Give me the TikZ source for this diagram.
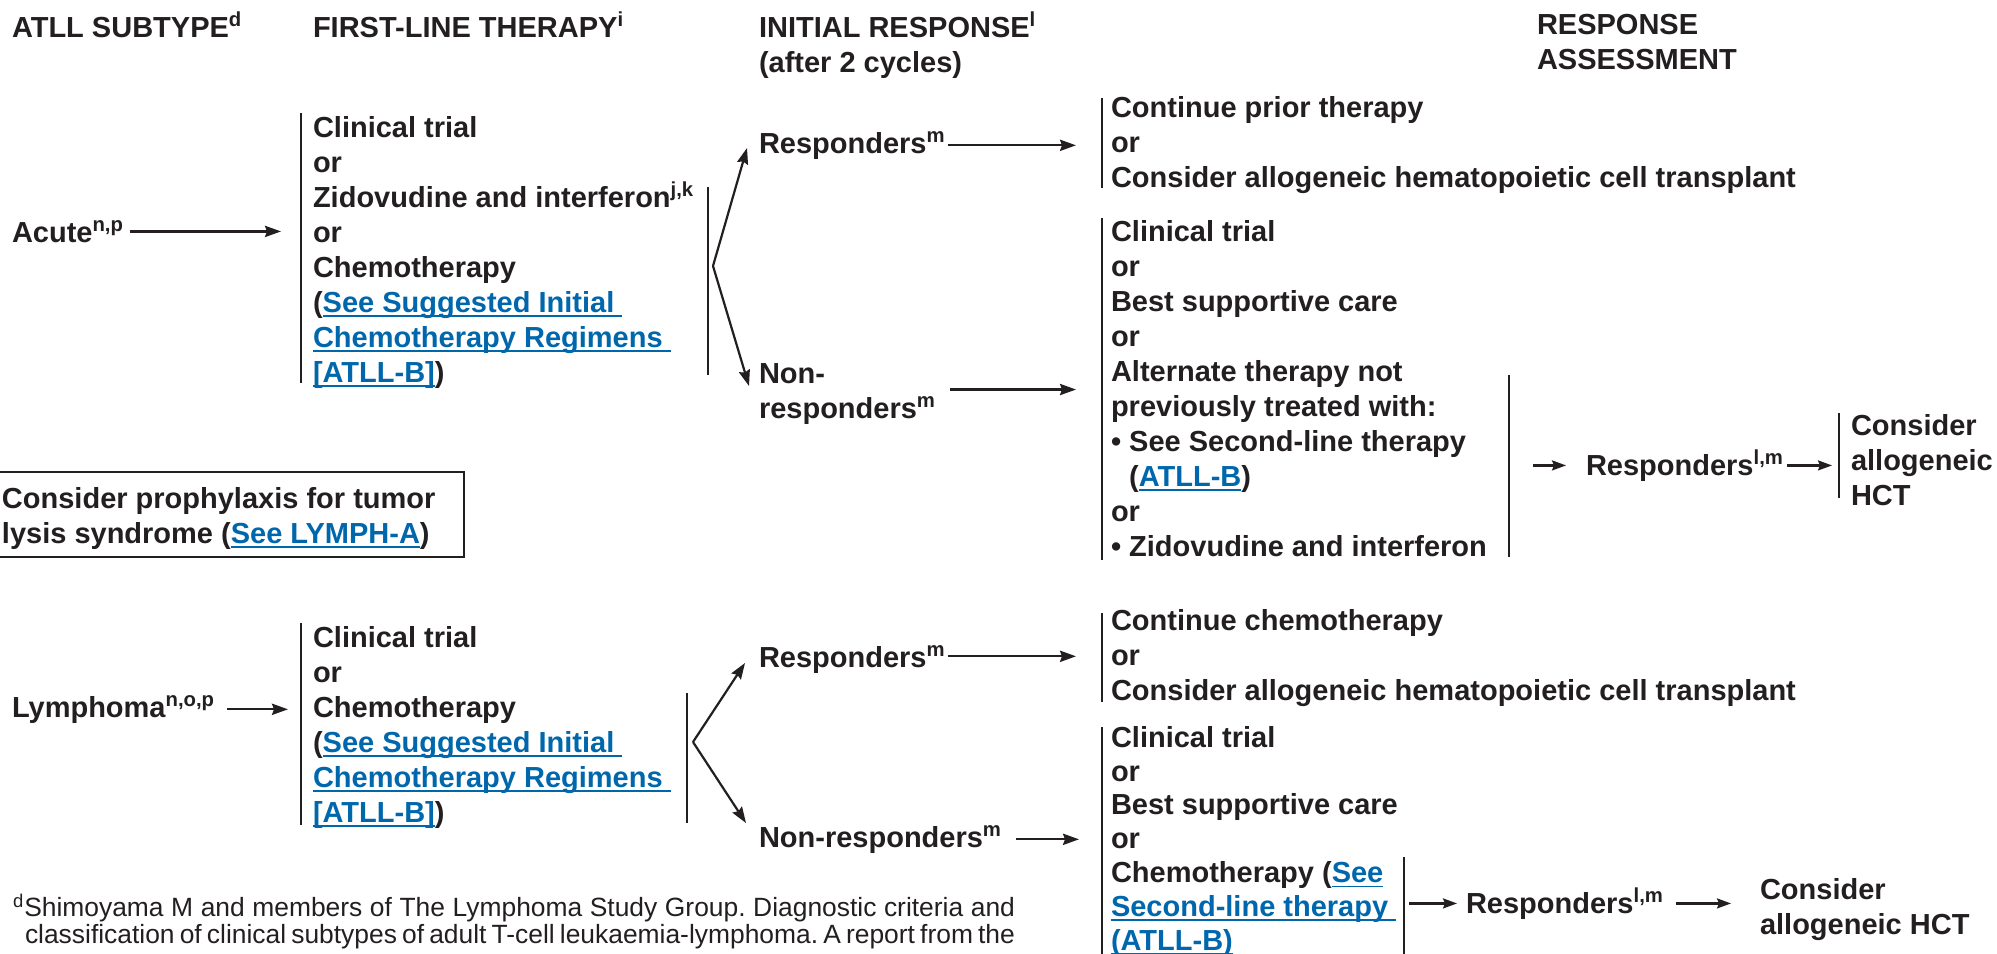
\documentclass[tikz,border=0pt]{standalone}
\usepackage{fontspec}
\setmainfont{Liberation Sans}
\usetikzlibrary{arrows.meta,calc}
\definecolor{ink}{HTML}{231F20}
\definecolor{linkblue}{HTML}{0067AC}
% blue link text with a rule underneath
\newcommand\lnk[1]{{\color{linkblue}\setbox0\hbox{#1}\rlap{\rule[-2.4pt]{\wd0}{0.8pt}}\box0}}
\newcommand\sups[1]{\textsuperscript{#1}}
\newcommand\bul{\textbullet\ }
% one justified footnote line of a given width
\newcommand\fnline[2]{\hbox to #1{\spaceskip=0.278em plus 0.2em minus 0.13em\relax #2}}
\frenchspacing
\begin{document}
% multi-line nodes are placed by the baseline of their last line
\begin{tikzpicture}[x=0.5pt,y=-0.5pt,
  every node/.style={inner sep=0pt,outer sep=0pt,text=ink},
  txt/.style={anchor=base west,align=left,font=\fontsize{14.5}{17.5}\selectfont\bfseries},
  note/.style={anchor=base west,align=left,font=\fontsize{13.2}{13.5}\selectfont},
  bar/.style={draw=ink,line width=1pt},
  frame/.style={draw=ink,line width=1.3pt},
  arr/.style={draw=ink,line width=1.1pt,-{Stealth[length=8pt,width=5.6pt,inset=1pt]}},
  sarr/.style={draw=ink,line width=1.1pt,-{Stealth[length=7pt,width=5pt,inset=1pt]}},
]
\useasboundingbox (0,0) rectangle (1997,953);

% column headings
\node[txt] (hsub)   at (12,37)   {ATLL SUBTYPE\sups{d}};
\node[txt] (hfirst) at (313,37)  {FIRST-LINE THERAPY\sups{i}};
\node[txt] (hinit)  at (759,72)  {INITIAL RESPONSE\sups{l}\\(after 2 cycles)};
\node[txt] (hresp)  at (1537,69) {RESPONSE\\ASSESSMENT};

% ---------------- acute subtype ----------------
\coordinate (ftAl) at (301,113);
\coordinate (ftAr) at (708,187);
\coordinate (brA)  at (713,266);
\coordinate (rAl)  at (1102,98);
\coordinate (nAl)  at (1102,218);
\coordinate (nAr)  at (1509,375);
\coordinate (hAl)  at (1839,413);

\node[txt] (acute) at (12,242) {Acute\sups{n,p}};
\node[txt] (ftA) at (313,382) {Clinical trial\\or\\Zidovudine and interferon\sups{j,k}\\or\\Chemotherapy\\(\lnk{See Suggested Initial\ }\\\lnk{Chemotherapy Regimens\ }\\\lnk{[ATLL-B]})};
\draw[bar] (ftAl) -- (301,383);
\draw[bar] (ftAr) -- (708,375);
\draw[arr] ([xshift=3pt]acute.east) -- ($(acute.east -| ftAl)+(-20,0)$);

\node[txt] (respA) at (759,153) {Responders\sups{m}};
\node[txt] (nonA)  at (759,418) {Non-\\responders\sups{m}};
\draw[arr] (brA) -- ($(respA.base west)+(-12,-5)$);
\draw[arr] (brA) -- ($(nonA.base west)+(-10,-32)$);

\node[txt] (rA) at (1111,187) {Continue prior therapy\\or\\Consider allogeneic hematopoietic cell transplant};
\draw[bar] (rAl) -- (1102,188);
\draw[arr] ([xshift=1pt]respA.east) -- ($(respA.east -| rAl)+(-26,0)$);

\node[txt] (nA) at (1111,556) {Clinical trial\\or\\Best supportive care\\or\\Alternate therapy not\\previously treated with:\\\bul See Second-line therapy\\\hphantom{\bul}(\lnk{ATLL-B})\\or\\\bul Zidovudine and interferon};
\draw[bar] (nAl) -- (1102,560);
\draw[bar] (nAr) -- (1509,557);
\draw[arr] ([xshift=7pt,yshift=2pt]nonA.east) -- ($([yshift=2pt]nonA.east -| nAl)+(-26,0)$);

\node[txt] (respA2) at (1586,475) {Responders\sups{l,m}};
\draw[sarr] ($(respA2.west -| nAr)+(24,0)$) -- ([xshift=-10pt]respA2.west);
\node[txt] (hctA) at (1851,505) {Consider\\allogeneic\\HCT};
\draw[bar] (hAl) -- (1839,498);
\draw[sarr] ([xshift=1.5pt]respA2.east) -- ($(respA2.east -| hAl)+(-7,0)$);

% tumor lysis note
\node[txt] (tls) at (2,543) {Consider prophylaxis for tumor\\lysis syndrome (\lnk{See LYMPH-A})};
\draw[frame] (-2,472) rectangle (464,557);

% ---------------- lymphoma subtype ----------------
\coordinate (ftLl) at (301,623);
\coordinate (ftLr) at (687,693);
\coordinate (brL)  at (693,742);
\coordinate (rLl)  at (1102,613);
\coordinate (nLl)  at (1102,727);
\coordinate (nLr)  at (1404,857);

\node[txt] (lymph) at (12,717) {Lymphoma\sups{n,o,p}};
\node[txt] (ftL) at (313,822) {Clinical trial\\or\\Chemotherapy\\(\lnk{See Suggested Initial\ }\\\lnk{Chemotherapy Regimens\ }\\\lnk{[ATLL-B]})};
\draw[bar] (ftLl) -- (301,825);
\draw[bar] (ftLr) -- (687,823);
\draw[arr] ([xshift=6pt]lymph.east) -- ($(lymph.east -| ftLl)+(-13,0)$);

\node[txt] (respL) at (759,667) {Responders\sups{m}};
\node[txt] (nonL)  at (759,847) {Non-responders\sups{m}};
\draw[arr] (brL) -- ($(respL.base west)+(-14,-4)$);
\draw[arr] (brL) -- ($(nonL.base west)+(-13,-24)$);

\node[txt] (rL) at (1111,700) {Continue chemotherapy\\or\\Consider allogeneic hematopoietic cell transplant};
\draw[bar] (rLl) -- (1102,702);
\draw[arr] ([xshift=1pt,yshift=1.5pt]respL.east) -- ($([yshift=1.5pt]respL.east -| rLl)+(-26,0)$);

\node[txt,font=\fontsize{14.5}{16.9}\selectfont\bfseries] (nL) at (1111,950) {Clinical trial\\or\\Best supportive care\\or\\Chemotherapy (\lnk{See}\\\lnk{Second-line therapy\ }\\\lnk{(ATLL-B)}};
\draw[bar] (nLl) -- (1102,970);
\draw[bar] (nLr) -- (1404,970);
\draw[arr] ([xshift=7pt]nonL.east) -- ($(nonL.east -| nLl)+(-23,0)$);

\node[txt] (respL2) at (1466,913) {Responders\sups{l,m}};
\draw[sarr] ($(respL2.west -| nLr)+(5,0)$) -- ([xshift=-4.5pt]respL2.west);
\node[txt] (hctL) at (1760,934) {Consider\\allogeneic HCT};
\draw[sarr] ([xshift=6pt]respL2.east) -- ($(respL2.east -| hctL.west)+(-29,0)$);

% footnote, set as justified lines with a hanging indent
\node[note] (fn) at (13,943) {\fnline{501pt}{\sups{d}Shimoyama M and members of The Lymphoma Study Group. Diagnostic criteria and}\\\hspace*{6pt}\fnline{495pt}{classification of clinical subtypes of adult T-cell leukaemia-lymphoma. A report from the}};
\end{tikzpicture}
\end{document}
